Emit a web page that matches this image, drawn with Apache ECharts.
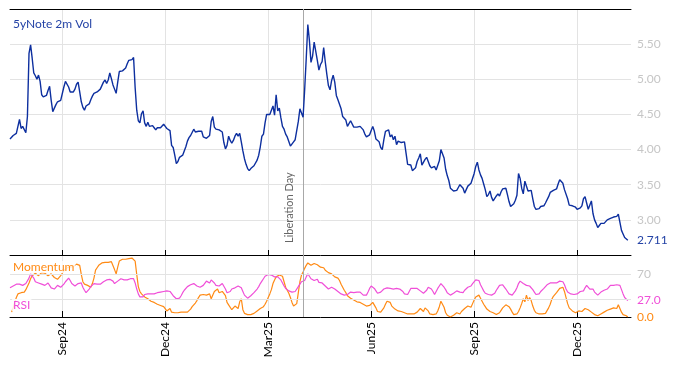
<!DOCTYPE html>
<html><head><meta charset="utf-8">
<script src="https://cdn.jsdelivr.net/npm/echarts@6/dist/echarts.min.js"></script>
<style>html,body{margin:0;padding:0;background:#fff}#c{width:674px;height:366px}</style>
</head><body><div id="c"></div>
<script>
// business-day calendar of the x axis
const startDate = '2024-07-17';
const categoryCount = 393;
const tickDates = ['2024-09-02','2024-12-02','2025-03-03','2025-06-02','2025-09-01','2025-12-01'];
const tickLabels = ['Sep24','Dec24','Mar25','Jun25','Sep25','Dec25'];
const eventDate = '2025-04-02';
const eventLabel = 'Liberation Day';
const volTitle = '5yNote 2m Vol';
const volTicks = [3.0, 3.5, 4.0, 4.5, 5.0, 5.5];
const oscLevels = [30, 70];

const vol = [
4.15,4.16,4.20,4.21,4.23,4.24,4.43,4.30,4.33,4.32,
4.24,4.47,5.37,5.49,5.30,5.09,5.05,5.00,5.06,4.97,
4.78,4.75,4.74,4.77,4.84,4.90,4.70,4.54,4.59,4.64,
4.68,4.70,4.70,4.72,4.89,4.97,4.95,4.89,4.82,4.84,
4.82,4.86,4.93,4.96,4.82,4.68,4.60,4.56,4.62,4.61,
4.65,4.71,4.76,4.80,4.82,4.82,4.81,4.86,4.91,4.96,
4.99,4.94,4.99,5.09,5.01,4.92,4.86,4.80,4.96,5.11,
5.09,5.12,5.12,5.16,5.22,5.27,5.26,5.28,5.31,4.88,
4.56,4.41,4.38,4.51,4.55,4.38,4.33,4.39,4.33,4.35,
4.34,4.31,4.28,4.31,4.31,4.31,4.31,4.36,4.33,4.30,
4.31,4.27,4.06,4.03,3.92,3.80,3.83,3.89,3.88,3.92,
3.98,4.04,4.12,4.17,4.20,4.22,4.29,4.25,4.26,4.26,
4.25,4.26,4.18,4.16,4.16,4.17,4.20,4.40,4.47,4.32,
4.29,4.28,4.28,4.29,4.25,4.10,4.01,4.06,4.19,4.13,
4.09,4.13,4.19,4.23,4.19,4.23,4.11,3.98,3.87,3.79,
3.73,3.70,3.73,3.75,3.77,3.79,3.85,3.92,4.04,4.19,
4.22,4.38,4.50,4.51,4.50,4.50,4.62,4.49,4.78,4.55,
4.59,4.45,4.33,4.29,4.22,4.18,4.16,4.05,4.04,4.11,
4.14,4.12,4.40,4.58,4.52,4.46,4.85,5.30,5.78,5.55,
5.24,5.33,5.53,5.52,5.27,5.13,5.21,5.25,5.45,5.25,
5.07,4.91,4.85,4.98,5.06,4.96,4.77,4.71,4.72,4.58,
4.47,4.46,4.42,4.33,4.35,4.41,4.39,4.32,4.32,4.32,
4.32,4.33,4.33,4.28,4.22,4.18,4.19,4.21,4.27,4.33,
4.26,4.15,4.13,4.11,4.03,4.00,4.14,4.26,4.24,4.28,
4.18,4.21,4.14,4.19,4.07,4.12,4.10,4.10,4.12,4.11,
3.95,3.79,3.81,3.78,3.70,3.70,3.74,3.83,3.88,3.94,
3.78,3.80,3.86,3.89,3.83,3.77,3.74,3.73,3.76,3.71,
3.72,3.84,4.00,3.99,3.88,3.72,3.63,3.56,3.45,3.45,
3.41,3.39,3.42,3.46,3.50,3.50,3.45,3.38,3.43,3.48,
3.50,3.52,3.54,3.66,3.76,3.82,3.71,3.64,3.59,3.51,
3.43,3.33,3.36,3.41,3.32,3.27,3.27,3.34,3.37,3.34,
3.40,3.44,3.46,3.45,3.36,3.26,3.19,3.18,3.23,3.28,
3.35,3.66,3.59,3.45,3.37,3.55,3.56,3.41,3.42,3.42,
3.30,3.19,3.15,3.16,3.16,3.19,3.20,3.20,3.24,3.23,
3.33,3.39,3.40,3.42,3.44,3.44,3.51,3.57,3.57,3.52,
3.43,3.45,3.30,3.21,3.20,3.20,3.20,3.18,3.15,3.15,
3.17,3.20,3.30,3.33,3.24,3.15,3.16,3.27,3.09,3.00,
2.95,2.89,2.92,2.95,2.95,2.95,2.96,3.00,3.01,3.02,
3.03,3.04,3.04,3.05,3.08,3.06,2.85,2.80,2.75,2.73,2.711
];

const momentum = [
null,8,15,24,32,38,40,40,40,41,
45,48,56,63,68,71,72,70,68,70,
73,74,72,70,68,69,71,68,65,63,
62,64,68,72,76,79,81,80,82,84,
83,85,87,89,85,70,58,54,52,52,
51,49,55,64,77,81,85,88,89,90,
90,89,90,92,91,88,78,71,82,92,
94,95,95,95,95,96,96,97,97,92,
70,50,42,38,35,33,31,30,28,26,
25,24,23,21,20,19,18,17,15,10,
11,14,8,7,7,7,7,7,8,9,
8,7,8,9,13,17,20,23,27,32,
36,37,37,36,36,37,38,30,28,42,
45,46,40,40,42,41,35,24,20,23,
12,12,18,16,14,25,30,12,6,5,
4,4,4,5,6,8,10,12,14,15,
17,21,26,32,38,45,55,61,66,68,
69,68,67,58,49,44,39,32,24,18,
15,22,40,58,69,74,80,85,89,88,
85,87,88,88,86,84,82,84,81,77,
75,73,72,71,68,66,65,64,60,54,
49,44,40,35,32,31,30,28,26,25,
25,24,24,21,19,18,18,19,21,24,
27,15,9,7,8,11,15,21,26,29,
24,18,15,13,11,10,9,9,8,7,
5,5,5,5,5,5,6,8,10,14,
12,9,15,14,10,5,4,4,4,5,
10,17,26,23,16,7,3,1,0,0,
3,5,7,8,5,9,12,14,16,18,
18,16,22,28,33,36,36,31,26,21,
17,13,11,9,8,7,5,4,5,7,
11,15,18,20,19,17,13,8,4,3,
5,9,15,22,30,25,36,27,32,27,
18,11,7,6,5,5,5,5,6,9,
15,21,29,34,37,40,42,47,49,49,
42,32,22,15,12,10,8,7,8,10,
11,9,8,14,15,12,9,8,7,4,
3,2,3,5,7,8,10,11,12,13,
14,15,15,14,20,22,8,4,3,2,0
];

const rsi = [
48,49,51,52,54,56,54,52,52,53,
55,58,64,71,68,64,58,55,56,56,
54,52,52,52,56,56,48,47,46,49,
52,49,49,51,54,58,61,64,60,55,
52,51,53,55,58,56,49,44,40,43,
46,50,53,55,56,54,52,54,55,58,
60,61,62,62,63,59,55,57,59,61,
63,62,61,60,61,62,63,64,63,56,
46,38,33,30,33,37,38,38,38,38,
38,38,39,40,40,41,41,42,42,43,
44,42,39,35,32,30,30,31,35,40,
44,47,50,52,53,54,55,53,51,50,
49,50,52,55,59,58,56,61,62,56,
52,49,51,53,55,53,46,40,37,42,
46,49,48,48,51,51,48,42,36,33,
31,33,35,37,40,43,46,50,55,59,
63,67,69,70,70,69,67,66,66,66,
63,61,56,51,47,45,43,42,41,41,
42,45,50,54,58,59,60,66,71,67,
63,61,60,59,62,57,54,56,54,51,
48,46,47,49,48,46,44,42,40,38,
37,36,36,37,39,41,41,40,40,41,
42,41,40,36,33,36,41,47,51,50,
47,43,39,39,41,43,46,49,48,48,
47,46,46,46,47,47,46,46,42,38,
37,37,42,47,48,47,46,47,47,43,
40,39,38,44,49,47,46,42,37,40,
47,51,55,54,49,45,40,38,36,36,
39,41,43,44,41,38,40,44,47,49,
50,51,55,58,61,64,60,53,48,43,
39,36,37,38,36,35,39,44,48,52,
53,53,50,46,42,38,37,36,38,43,
48,55,59,57,55,53,52,51,51,49,
45,41,37,37,38,42,45,47,50,53,
55,56,56,56,55,56,58,59,60,58,
53,46,41,38,38,37,37,37,38,41,
42,42,43,48,52,49,46,49,46,41,
38,36,38,41,43,44,45,46,49,52,
52,52,52,53,53,52,45,38,32,29,27
];

function businessDays(start, n) {
  const out = [];
  const d = new Date(start + 'T00:00:00Z');
  while (out.length < n) {
    const w = d.getUTCDay();
    if (w !== 0 && w !== 6) out.push(d.toISOString().slice(0, 10));
    d.setUTCDate(d.getUTCDate() + 1);
  }
  return out;
}
const dates = businessDays(startDate, categoryCount);
const labelFor = {};
tickDates.forEach((d, i) => { labelFor[d] = tickLabels[i]; });
const isTick = (idx, val) => labelFor[val] !== undefined;
const lastCat = dates[dates.length - 1];
const lastVol = vol[vol.length - 1];
const lastMom = momentum[momentum.length - 1];
const lastRsi = rsi[rsi.length - 1];

const FONT = 'Lato, "Open Sans", sans-serif';
const BLUE = '#0d2f9f';
const LBLUE = '#2443a6';
const ORANGE = '#ff8a14';
const MAGENTA = '#f04fd8';
const GRID = '#e3e3e3';
const AXLBL = '#c6c6c6';

const chart = echarts.init(document.getElementById('c'), null, {renderer: 'canvas'});
chart.setOption({
  animation: false,
  textStyle: {fontFamily: FONT},
  grid: [
    {left: 10, right: 43, top: 9, height: 246},
    {left: 10, right: 43, top: 255, height: 62}
  ],
  xAxis: [
    {type: 'category', gridIndex: 0, data: dates, boundaryGap: false,
     axisLine: {show: true, onZero: false, lineStyle: {color: '#000', width: 1}},
     axisTick: {show: true, inside: true, length: 5, interval: isTick, lineStyle: {color: '#000'}},
     axisLabel: {show: false},
     splitLine: {show: true, interval: isTick, lineStyle: {color: GRID}}},
    {type: 'category', gridIndex: 1, data: dates, boundaryGap: false,
     axisLine: {show: true, onZero: false, lineStyle: {color: '#000', width: 1}},
     axisTick: {show: true, inside: true, length: 6, interval: isTick, lineStyle: {color: '#000'}},
     axisLabel: {show: true, interval: isTick, rotate: 90, margin: 5, color: '#000', fontSize: 12, fontFamily: FONT,
                 formatter: v => labelFor[v] || ''},
     splitLine: {show: true, interval: isTick, lineStyle: {color: GRID}}},
    {type: 'category', gridIndex: 0, position: 'top', data: dates, boundaryGap: false,
     axisLine: {show: true, onZero: false, lineStyle: {color: '#000', width: 1}},
     axisTick: {show: false}, axisLabel: {show: false}, splitLine: {show: false}}
  ],
  yAxis: [
    {type: 'value', gridIndex: 0, position: 'right', min: 2.5, max: 6, interval: 0.5,
     axisLine: {show: false}, axisTick: {show: false},
     axisLabel: {color: AXLBL, fontSize: 12, margin: 6, fontFamily: FONT,
                 formatter: v => volTicks.some(t => Math.abs(t - v) < 1e-9) ? v.toFixed(2) : ''},
     splitLine: {show: true, lineStyle: {color: GRID}}},
    {type: 'value', gridIndex: 1, position: 'right', min: 0, max: 102, interval: 10,
     axisLine: {show: false}, axisTick: {show: false},
     axisLabel: {color: AXLBL, fontSize: 12, margin: 6, fontFamily: FONT,
                 formatter: v => v === oscLevels[1] ? String(v) : ''},
     splitLine: {show: false}}
  ],
  series: [
    {type: 'line', name: 'vol', xAxisIndex: 0, yAxisIndex: 0, data: vol,
     symbol: 'none', showSymbol: false, z: 5,
     lineStyle: {color: BLUE, width: 1.4},
     markLine: {silent: true, symbol: ['none', 'none'], animation: false,
       data: [{xAxis: eventDate, lineStyle: {color: '#a8a8a8', width: 1, type: 'solid'},
               label: {show: true, formatter: eventLabel, position: 'insideStartTop',
                       color: '#666', fontSize: 11, fontFamily: FONT, distance: [12, 8]}}]},
     markPoint: {symbol: 'circle', symbolSize: 0, silent: true, animation: false,
       data: [{coord: [lastCat, lastVol],
               label: {show: true, position: 'right', distance: 6, formatter: String(lastVol),
                       color: LBLUE, fontSize: 12, fontFamily: FONT}}]}},
    {type: 'line', name: 'Momentum', xAxisIndex: 1, yAxisIndex: 1, data: momentum,
     symbol: 'none', showSymbol: false, z: 3,
     lineStyle: {color: ORANGE, width: 1.2},
     markLine: {silent: true, symbol: ['none', 'none'], animation: false, label: {show: false},
       data: [
         {yAxis: oscLevels[0], lineStyle: {color: GRID, width: 1, type: 'solid'}},
         {yAxis: oscLevels[1], lineStyle: {color: GRID, width: 1, type: 'solid'}},
         {xAxis: eventDate, lineStyle: {color: '#a8a8a8', width: 1, type: 'solid'}}
       ]},
     markPoint: {symbol: 'circle', symbolSize: 0, silent: true, animation: false,
       data: [{coord: [lastCat, lastMom],
               label: {show: true, position: 'right', distance: 6, formatter: lastMom.toFixed(1),
                       color: ORANGE, fontSize: 12, fontFamily: FONT}}]}},
    {type: 'line', name: 'RSI', xAxisIndex: 1, yAxisIndex: 1, data: rsi,
     symbol: 'none', showSymbol: false, z: 4,
     lineStyle: {color: MAGENTA, width: 1.2},
     markPoint: {symbol: 'circle', symbolSize: 0, silent: true, animation: false,
       data: [{coord: [lastCat, lastRsi],
               label: {show: true, position: 'right', distance: 6, formatter: lastRsi.toFixed(1),
                       color: MAGENTA, fontSize: 12, fontFamily: FONT}}]}}
  ],
  graphic: [
    {type: 'text', left: 13, top: 18, z: 100,
     style: {text: volTitle, fill: LBLUE, font: '12px ' + FONT}},
    {type: 'text', left: 12, top: 261, z: 100,
     style: {text: 'Momentum', fill: ORANGE, font: '12px ' + FONT,
             backgroundColor: 'rgba(255,255,255,0.82)', padding: [0, 1, 0, 1]}},
    {type: 'text', left: 12, top: 299, z: 100,
     style: {text: 'RSI', fill: MAGENTA, font: '12px ' + FONT,
             backgroundColor: 'rgba(255,255,255,0.82)', padding: [0, 1, 0, 1]}}
  ]
});
</script>
</body></html>
